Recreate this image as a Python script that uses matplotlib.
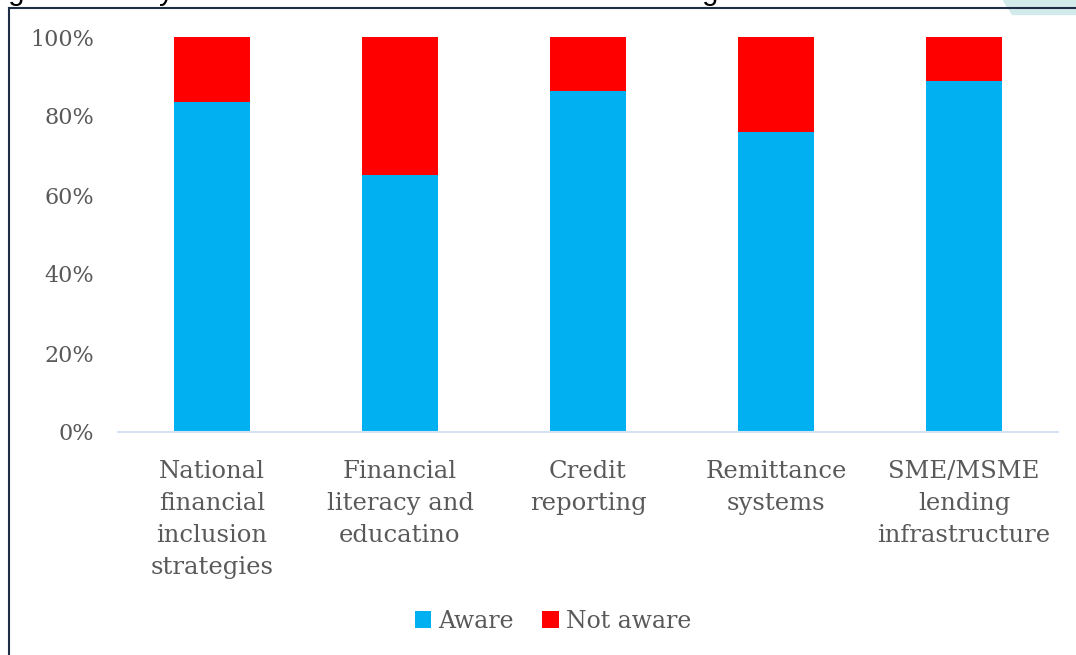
import matplotlib.pyplot as plt
from matplotlib.patches import Polygon
from matplotlib.lines import Line2D

categories = ['National\nfinancial\ninclusion\nstrategies',
              'Financial\nliteracy and\neducatino',
              'Credit\nreporting',
              'Remittance\nsystems',
              'SME/MSME\nlending\ninfrastructure']
aware = [83.5, 65.0, 86.3, 75.9, 88.9]
not_aware = [100 - v for v in aware]
yticks = [0, 20, 40, 60, 80, 100]

W, H = 1076, 655
fig = plt.figure(figsize=(W / 100, H / 100), dpi=100)
ax = fig.add_axes([118 / W, (H - 432) / H, 940 / W, 395 / H])

grey = '#595959'
font = 'DejaVu Serif'
x = range(len(categories))
ax.bar(x, aware, width=0.4, color='#00B0F0', label='Aware')
ax.bar(x, not_aware, width=0.4, bottom=aware, color='#FF0000', label='Not aware')

ax.set_xlim(-0.5, len(categories) - 0.5)
ax.set_ylim(0, 100)
ax.set_yticks(yticks)
ax.set_yticklabels([f'{v}%' for v in yticks], fontsize=16, color=grey, family=font)
ax.set_xticks(list(x))
ax.set_xticklabels(categories, fontsize=17.5, color=grey, family=font, linespacing=1.5)
ax.tick_params(axis='both', length=0)
ax.tick_params(axis='x', pad=20)
ax.tick_params(axis='y', pad=17)
for s in ['top', 'right', 'left']:
    ax.spines[s].set_visible(False)
ax.spines['bottom'].set_color('#d6e3f2')
ax.spines['bottom'].set_linewidth(1.5)

leg = fig.legend(loc='center', bbox_to_anchor=(553 / W, (H - 621) / H), ncol=2,
                 frameon=False, prop={'family': font, 'size': 17},
                 handlelength=0.7, handleheight=0.7, handletextpad=0.3,
                 columnspacing=1.2)
for t in leg.get_texts():
    t.set_color(grey)

# caption of the page, cut off by the top edge, and page decoration
fig.text(-16 / W, H / H, 'Figure 3: Are you aware of the work done in the following areas?',
         fontsize=21, family='Liberation Sans', va='baseline', ha='left')
fig.patches.append(Polygon([[1003 / W, 1], [1076 / W, 1], [1076 / W, (H - 14) / H], [1012 / W, (H - 14) / H]],
                           closed=True, transform=fig.transFigure, color='#d3eaea', zorder=0))
fig.lines.append(Line2D([8.5 / W, 8.5 / W], [0, (H - 8) / H], transform=fig.transFigure,
                        color='#1f2d45', linewidth=1.5))
fig.lines.append(Line2D([8.5 / W, 1], [(H - 8) / H, (H - 8) / H], transform=fig.transFigure,
                        color='#1f2d45', linewidth=1.5))

fig.savefig('out.png', dpi=100)
